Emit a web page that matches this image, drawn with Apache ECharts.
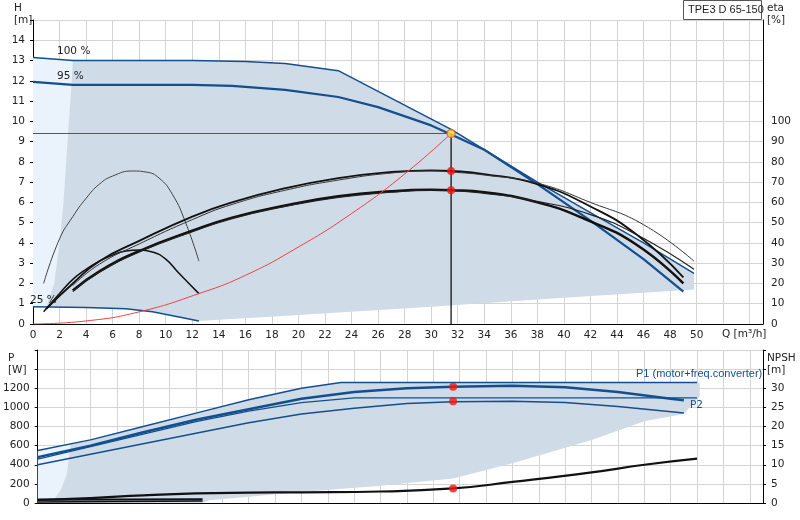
<!DOCTYPE html>
<html><head><meta charset="utf-8">
<script src="https://cdn.jsdelivr.net/npm/echarts@6/dist/echarts.min.js"></script>
<style>html,body{margin:0;padding:0;background:#fff}#c{width:800px;height:520px}</style>
</head><body><div id="c"></div>
<script>
// ---- Top chart (H in m; eta in H-units where 10 m = 100 %) ----
const qTicksMax = 50;
const shadeLightTop = [[0,13.15],[3,13],[3,0.85],[0,0.85]];
const shadeDarkTop = [[3,13],[8,13],[12,13],[16,12.95],[19,12.85],[23,12.5],[31.5,9.6],[34,8.6],[38,7],[42,5.5],[46,4],[49.8,2.5],[49.8,1.7],[40,1.3],[30,0.85],[20,0.45],[12.5,0.15],[11,0.35],[9,0.6],[7,0.75],[4,0.82],[1,0.85],[1.6,2],[2,4],[2.3,6],[2.6,9],[2.9,11.8]];
const h100 = [[0,13.15],[3,13],[8,13],[12,13],[16,12.95],[19,12.85],[23,12.5],[31.5,9.6],[34,8.6],[38,7],[42,5.5],[46,4],[49.8,2.5]];
const h95 = [[0,11.95],[3,11.8],[8,11.8],[12,11.8],[15,11.75],[19,11.55],[23,11.2],[26,10.7],[30,9.8],[31.5,9.35],[34,8.6],[38,6.9],[42,5.1],[46,3.2],[49,1.6]];
const h25 = [[0,0.85],[4,0.82],[7,0.75],[9,0.6],[11,0.35],[12.5,0.15]];
const etaSmallThin = [[0.8,2],[2,4.2],[3,5.3],[4,6.2],[5,6.9],[6,7.3],[7.5,7.55],[8.5,7.5],[9.5,7.2],[10.5,6.4],[11.5,5],[12.5,3.1]];
const etaSmall = [[0.8,0.6],[2,1.5],[3,2.2],[4,2.7],[5,3.1],[6,3.4],[7,3.6],[8,3.65],[9,3.55],[10,3.2],[11,2.5],[12.5,1.5]];
const etaUpA = [[1,0.75],[3,2],[5,3.1],[8,4.1],[12,5.3],[15,6.0],[19,6.7],[23,7.2],[27,7.5],[30,7.58],[31.5,7.55],[34,7.4],[38,6.9],[42,5.8],[45.5,4.4],[49,2.3]];
const etaUpB = [[3,1.9],[5,2.95],[8,3.95],[12,5.15],[15,5.9],[19,6.6],[23,7.1],[27,7.45],[30,7.55],[31.5,7.5],[34,7.35],[38,6.95],[42,6],[46,4.9],[49.8,3.1]];
const etaLoA = [[3,1.65],[5,2.6],[8,3.6],[12,4.6],[15,5.25],[19,5.85],[23,6.3],[27,6.55],[30,6.62],[31.5,6.6],[34,6.5],[38,6.0],[41.5,5.2],[45.5,3.9],[49,2.0]];
const etaLoB = [[3,1.6],[5,2.55],[8,3.55],[12,4.55],[15,5.2],[19,5.8],[23,6.25],[27,6.5],[30,6.6],[34,6.45],[38,6.05],[42,5.4],[45.5,4.4],[49.8,2.7]];
const systemCurve = [[0,0],[4,0.15],[8,0.6],[12.5,1.5],[16,2.4],[20,3.8],[24,5.45],[28,7.4],[31.5,9.4]];
const dutyQ = 31.5, dutyH = 9.4;
const dutyEta = [7.55, 6.6];
// ---- Bottom chart (P in W; NPSH in m) ----
const shadeLightBot = [[0,550],[2.5,620],[2.5,0],[0,0]];
const shadeDarkBot = [[2.5,620],[4,660],[8,800],[12,940],[16,1080],[20,1200],[23,1260],[50.2,1260],[50.2,1120],[49,930],[46,855],[42,660],[36,415],[31.5,257],[26,180],[20,116],[13,28],[12.5,0],[0.6,0],[1.2,30],[1.8,150],[2.2,300],[2.4,500]];
const p1Top = [[0,550],[4,660],[8,800],[12,940],[16,1080],[20,1200],[23,1260],[50,1260]];
const p1Main = [[0,480],[4,600],[8,740],[12,870],[16,980],[20,1090],[24,1160],[28,1200],[31.5,1215],[36,1225],[40,1210],[44,1160],[48,1090],[49,1075]];
const p1B = [[0,460],[4,590],[8,720],[12,850],[16,960],[20,1050],[24,1100],[50,1100]];
const p2 = [[0,400],[4,510],[8,620],[12,730],[16,840],[20,930],[24,990],[28,1040],[31.5,1060],[36,1065],[40,1050],[44,1010],[49,940]];
const pLowA = [[0,35],[12.5,40]];
const pLowB = [[0,10],[12.5,20]];
const npsh = [[0,0.8],[4,1.3],[8,2],[12,2.5],[16,2.7],[20,2.8],[26,3],[31.5,3.8],[36,5.5],[42,8],[46,10],[50,11.6]];
const dutyP = [1215, 1065];
const dutyNPSH = 3.8;

const NAVY = '#134f8f';
const F = 'DejaVu Sans';
const chart = echarts.init(document.getElementById('c'));
function poly(pts, xi, yi, color){
  return {type:'custom', xAxisIndex:xi, yAxisIndex:yi, silent:true, z:1,
    data:[0], renderItem:(p, api)=>({type:'polygon', shape:{points:pts.map(q=>api.coord(q))}, style:{fill:color}})};
}
function line(d, xi, yi, color, w, smooth){
  return {type:'line', xAxisIndex:xi, yAxisIndex:yi, data:d, showSymbol:false, symbol:'none', silent:true, smooth:smooth||false, lineStyle:{color, width:w}, z:3};
}
function dots(d, xi, yi, color, border){
  return {type:'scatter', xAxisIndex:xi, yAxisIndex:yi, data:d, symbolSize:8, silent:true, z:6, itemStyle:{color, borderColor:border||color, borderWidth:border?1.5:0}};
}
const xBase = {type:'value', min:0, max:55, interval:2, axisTick:{show:false},
  axisLine:{onZero:false, lineStyle:{color:'#000'}}, splitLine:{lineStyle:{color:'#d4d4d4'}}};
const yBase = {type:'value', axisTick:{show:true, length:3, lineStyle:{color:'#000'}}, axisLine:{show:true, onZero:false, lineStyle:{color:'#000'}}, splitLine:{lineStyle:{color:'#d4d4d4'}}};
const lab = {color:'#222', fontFamily:F, fontSize:10.5};
const T = (left, top, text, fill, font) => ({type:'text', left, top, z:100, style:{text, font:font||'10.5px "DejaVu Sans"', fill:fill||'#222', lineHeight:12}});
chart.setOption({
  animation:false,
  grid:[{left:33,right:37,top:20,bottom:196},{left:33,right:37,top:350,bottom:17}],
  xAxis:[Object.assign({},xBase,{gridIndex:0, axisLabel:Object.assign({},lab,{margin:6, formatter:v=>v<=qTicksMax?v:''})}),
         Object.assign({},xBase,{gridIndex:1, axisLabel:{show:false}})],
  yAxis:[Object.assign({},yBase,{gridIndex:0, min:0, max:15, interval:1, axisLabel:Object.assign({},lab,{formatter:v=>v<15?v:''})}),
         Object.assign({},yBase,{gridIndex:0, position:'right', min:0, max:150, interval:10, splitLine:{show:false}, axisTick:{show:false}, axisLabel:Object.assign({},lab,{formatter:v=>v<=100?v:''})}),
         Object.assign({},yBase,{gridIndex:1, min:0, max:1600, interval:200, axisLabel:Object.assign({},lab,{formatter:v=>v<1400?v:''})}),
         Object.assign({},yBase,{gridIndex:1, position:'right', min:0, max:40, interval:5, splitLine:{show:false}, axisLabel:Object.assign({},lab,{formatter:v=>v<35?v:''})})],
  graphic:[
    {type:'rect', z:100, shape:{x:683.5,y:0.5,width:78,height:19}, style:{fill:'#fff',stroke:'#555'}},
    T(688,4,'TPE3 D 65-150','#222','11px "Liberation Sans"'),
    T(14,2,'H\n[m]'),
    T(767,2,'eta\n[%]'),
    T(722,328,'Q [m³/h]'),
    T(8,352,'P\n[W]'),
    T(767,352,'NPSH\n[m]'),
    T(57,45,'100 %'),
    T(57,70,'95 %'),
    T(30,294,'25 %'),
    T(636,368,'P1 (motor+freq.converter)',NAVY,'11px "Liberation Sans"'),
    T(690,399,'P2',NAVY)
  ],
  series:[
    poly(shadeLightTop,0,0,'#eaf2fb'),
    poly(shadeDarkTop,0,0,'#cfdbe6'),
    line(h100,0,0,NAVY,1.5), line(h95,0,0,NAVY,2.2), line(h25,0,0,NAVY,1.5),
    line(etaSmallThin,0,0,'#444',1,true), line(etaSmall,0,0,'#111',1.5,true),
    line(etaUpA,0,0,'#111',1.8,true), line(etaUpB,0,0,'#333',1,true),
    line(etaLoA,0,0,'#111',2.5,true), line(etaLoB,0,0,'#222',1.2,true),
    line(systemCurve,0,0,'#f04040',1,true),
    line([[0,dutyH],[dutyQ,dutyH]],0,0,'#555',1), line([[dutyQ,0],[dutyQ,dutyH]],0,0,'#000',1.2),
    dots(dutyEta.map(v=>[dutyQ,v]),0,0,'#f21515'),
    dots([[dutyQ,dutyH]],0,0,'#ffe23a','#f05a20'),
    poly(shadeLightBot,1,2,'#eaf2fb'),
    poly(shadeDarkBot,1,2,'#cfdbe6'),
    line(p1Top,1,2,NAVY,1.5), line(p1Main,1,2,NAVY,2.5), line(p1B,1,2,NAVY,1.3), line(p2,1,2,NAVY,1.5),
    line(pLowA,1,2,'#111',2), line(pLowB,1,2,'#111',1.5),
    line(npsh,1,3,'#111',2.2,true),
    dots(dutyP.map(v=>[dutyQ,v]),1,2,'#f21515'),
    dots([[dutyQ,dutyNPSH]],1,3,'#f21515')
  ]
});
</script></body></html>
